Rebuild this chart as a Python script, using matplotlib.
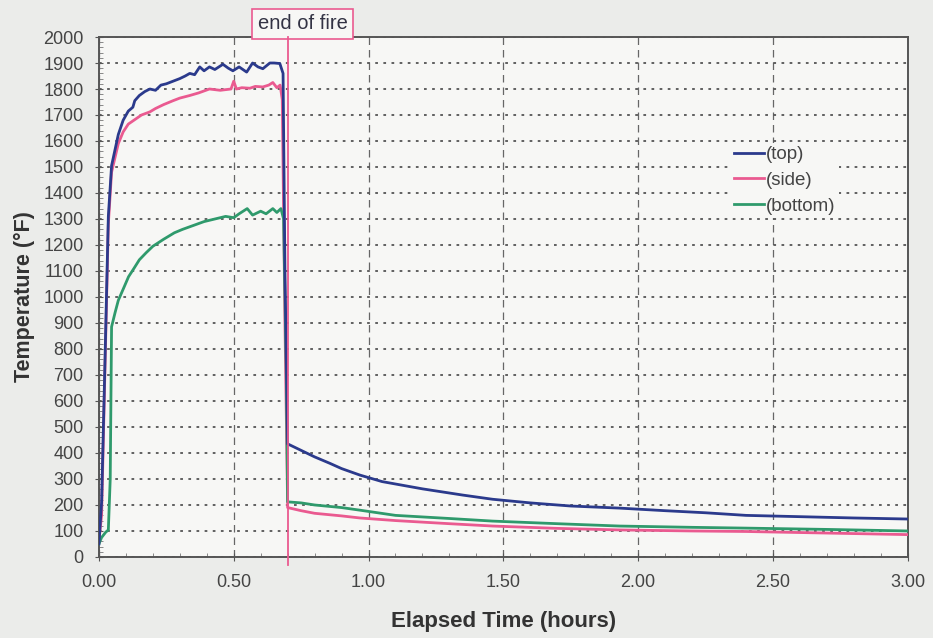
#==========================================================================
# Fire test: temperature vs elapsed time (top / side / bottom)
#==========================================================================
import numpy as np
import matplotlib.pyplot as plt
from matplotlib.ticker import MultipleLocator

plt.rcParams['font.family'] = ['Liberation Sans', 'DejaVu Sans']

# time in hours, temperature in degF
top_t = [0.00, 0.01, 0.022, 0.035, 0.047, 0.072, 0.09, 0.109, 0.126, 0.133, 0.15, 0.17, 0.189,
         0.21, 0.23, 0.25, 0.275, 0.30, 0.32, 0.337, 0.355, 0.374, 0.39, 0.41, 0.43, 0.46,
         0.48, 0.497, 0.52, 0.548, 0.57, 0.59, 0.608, 0.634, 0.65, 0.671, 0.683, 0.69, 0.70,
         0.75, 0.80, 0.857, 0.90, 0.968, 1.05, 1.20, 1.35, 1.46, 1.60, 1.75, 1.93, 2.10,
         2.25, 2.40, 2.60, 2.80, 3.00]
top_v = [50, 210, 730, 1310, 1505, 1625, 1680, 1715, 1730, 1755, 1775, 1790, 1800,
         1795, 1815, 1820, 1830, 1840, 1850, 1860, 1855, 1885, 1870, 1885, 1875, 1895,
         1880, 1870, 1885, 1865, 1900, 1885, 1878, 1900, 1900, 1898, 1860, 1100, 435,
         410, 385, 360, 340, 315, 290, 262, 238, 222, 208, 196, 188, 178,
         170, 160, 155, 150, 146]

side_t = [0.00, 0.01, 0.022, 0.035, 0.047, 0.072, 0.09, 0.109, 0.13, 0.158, 0.189, 0.21, 0.24,
          0.275, 0.30, 0.337, 0.37, 0.41, 0.45, 0.49, 0.50, 0.51, 0.53, 0.56, 0.58, 0.608,
          0.63, 0.645, 0.66, 0.672, 0.68, 0.69, 0.70, 0.75, 0.80, 0.90, 0.968, 1.10, 1.30,
          1.46, 1.70, 1.93, 2.20, 2.40, 2.70, 3.00]
side_v = [60, 160, 700, 1280, 1480, 1590, 1635, 1665, 1680, 1700, 1712, 1725, 1740,
          1755, 1765, 1775, 1785, 1800, 1795, 1800, 1830, 1800, 1805, 1803, 1810, 1808,
          1815, 1825, 1805, 1815, 1760, 900, 190, 178, 168, 158, 150, 140, 128,
          119, 110, 104, 100, 98, 92, 86]

bottom_t = [0.00, 0.01, 0.025, 0.035, 0.042, 0.047, 0.06, 0.072, 0.09, 0.11, 0.13, 0.15, 0.175,
            0.20, 0.24, 0.28, 0.31, 0.35, 0.39, 0.43, 0.47, 0.50, 0.52, 0.55, 0.57, 0.60,
            0.62, 0.645, 0.66, 0.675, 0.685, 0.695, 0.70, 0.75, 0.80, 0.90, 0.968, 1.10,
            1.30, 1.46, 1.70, 1.93, 2.20, 2.40, 2.70, 3.00]
bottom_v = [50, 75, 95, 104, 300, 885, 940, 987, 1030, 1078, 1110, 1143, 1170,
            1195, 1222, 1247, 1260, 1275, 1290, 1300, 1310, 1305, 1320, 1340, 1315, 1330,
            1320, 1340, 1325, 1340, 1300, 700, 212, 208, 200, 190, 180, 160,
            148, 138, 128, 119, 114, 111, 106, 100]

end_of_fire = 0.70

fig = plt.figure(figsize=(9.33, 6.38), dpi=100, facecolor='#ebecea')
ax = fig.add_axes([0.106, 0.127, 0.867, 0.815])
ax.set_facecolor('#f7f7f5')

ax.plot(top_t, top_v, color='#2b3a8c', lw=2, label='(top)', zorder=4)
ax.plot(side_t, side_v, color='#ea5a90', lw=2, label='(side)', zorder=3)
ax.plot(bottom_t, bottom_v, color='#2f9a6c', lw=2, label='(bottom)', zorder=3)

ax.set_xlim(0, 3)
ax.set_ylim(0, 2000)
ax.xaxis.set_major_locator(MultipleLocator(0.5))
ax.xaxis.set_minor_locator(MultipleLocator(0.1))
ax.yaxis.set_major_locator(MultipleLocator(100))
ax.yaxis.set_minor_locator(MultipleLocator(20))
ax.set_xticklabels(['%.2f' % v for v in ax.get_xticks()])

ax.yaxis.grid(True, linestyle=(0, (1.5, 3)), color='#555555', lw=1.3)
ax.xaxis.grid(True, linestyle=(0, (6, 4)), color='#666666', lw=0.9)
ax.set_axisbelow(True)

for s in ax.spines.values():
    s.set_color('#555555')
    s.set_linewidth(1.4)
ax.tick_params(which='major', direction='inout', length=6, color='#555555',
               labelsize=13, labelcolor='#444444')
ax.tick_params(axis='y', which='major', pad=8)
ax.tick_params(axis='x', which='major', pad=9)
ax.tick_params(which='minor', direction='in', length=3, color='#777777')

ax.set_xlabel('Elapsed Time (hours)', fontsize=16, fontweight='bold', color='#333333', labelpad=15)
ax.set_ylabel('Temperature (°F)', fontsize=15.5, fontweight='bold', color='#333333', labelpad=6)

# end of fire marker
ax.axvline(end_of_fire, color='#ea5a90', lw=1.3, ymin=-0.015, ymax=1.0, clip_on=False, zorder=5)
ax.text(0.756, 1.007, 'end of fire', transform=ax.get_xaxis_transform(),
        ha='center', va='bottom', fontsize=14.5, color='#333344',
        bbox=dict(boxstyle='square,pad=0.28', fc='#f7f7f5', ec='#ea5a90', lw=1.2))

ax.legend(loc='upper left', bbox_to_anchor=(0.78, 0.797), frameon=True, fontsize=13.5,
          facecolor='#f7f7f5', edgecolor='none', framealpha=1, fancybox=False,
          handlelength=1.6, handletextpad=0.1, labelspacing=0.45, borderaxespad=0,
          borderpad=0.2, labelcolor='#444444')

plt.savefig('out.png', dpi=100, facecolor=fig.get_facecolor())
